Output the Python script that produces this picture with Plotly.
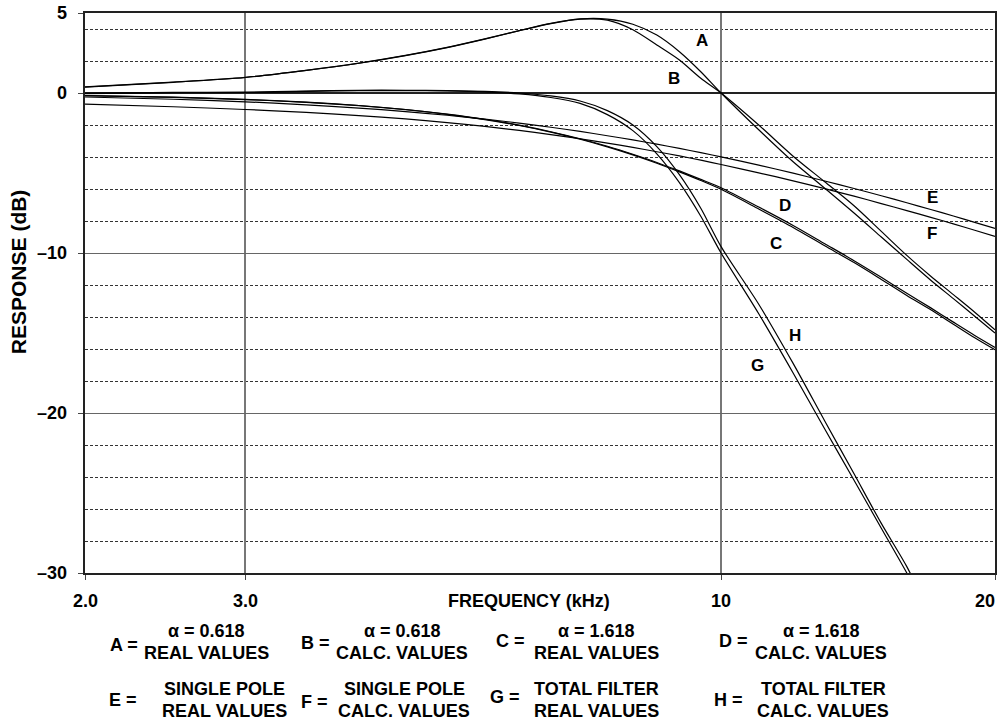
import math
import plotly.graph_objects as go

# ---------------- data ----------------
freq_khz = [2.0, 2.5, 3.0, 3.5, 4.0, 4.5, 5.0, 5.5, 6.0, 6.5, 7.0, 7.5, 8.0, 8.5,
            9.0, 9.5, 10, 11, 12, 13, 14, 15, 16, 17, 18, 19, 20]

resp_A = [0.38, 0.68, 0.98, 1.42, 1.87, 2.35, 2.85, 3.38, 3.90, 4.35, 4.63, 4.62, 4.30, 3.62,
          2.58, 1.33, 0.0, -2.30, -4.30, -5.95, -7.50, -9.00, -10.40, -11.70, -12.85, -13.95, -15.00]
resp_B = [0.37, 0.67, 0.97, 1.41, 1.86, 2.34, 2.84, 3.37, 3.89, 4.34, 4.62, 4.55, 3.95, 3.00,
          2.06, 0.92, 0.0, -2.00, -3.95, -5.55, -7.05, -8.65, -10.15, -11.45, -12.60, -13.70, -14.80]
resp_C = [-0.17, -0.27, -0.41, -0.58, -0.79, -1.04, -1.33, -1.66, -2.03, -2.44, -2.89, -3.37, -3.87, -4.39,
          -4.93, -5.47, -6.02, -7.25, -8.40, -9.55, -10.60, -11.65, -12.65, -13.55, -14.45, -15.30, -16.05]
resp_D = [-0.16, -0.26, -0.40, -0.57, -0.78, -1.03, -1.32, -1.64, -2.01, -2.42, -2.86, -3.33, -3.83, -4.34,
          -4.87, -5.40, -5.92, -7.13, -8.28, -9.42, -10.48, -11.52, -12.52, -13.43, -14.32, -15.15, -15.90]
resp_E = [-0.25, -0.39, -0.55, -0.74, -0.94, -1.16, -1.39, -1.63, -1.88, -2.14, -2.40, -2.67, -2.93, -3.20,
          -3.46, -3.73, -3.99, -4.51, -5.01, -5.50, -5.97, -6.42, -6.86, -7.28, -7.69, -8.09, -8.46]
resp_F = [-0.70, -0.86, -1.03, -1.21, -1.41, -1.62, -1.85, -2.09, -2.34, -2.60, -2.86, -3.13, -3.40, -3.67,
          -3.93, -4.20, -4.47, -4.99, -5.49, -5.98, -6.45, -6.91, -7.35, -7.77, -8.18, -8.58, -8.96]
resp_G = [-0.04, 0.02, 0.03, 0.10, 0.15, 0.15, 0.13, 0.07, -0.06, -0.28, -0.65, -1.35, -2.35, -3.80,
          -5.60, -7.70, -10.00, -13.80, -17.50, -21.00, -24.20, -27.20, -30.00, -32.80, -35.40, -37.80, -40.10]
resp_H = [-0.02, 0.04, 0.05, 0.12, 0.17, 0.17, 0.15, 0.10, 0.00, -0.18, -0.50, -1.10, -2.00, -3.35,
          -5.10, -7.20, -9.60, -13.20, -16.90, -20.50, -23.80, -26.90, -29.60, -32.60, -35.10, -37.50, -39.80]

x_tick_vals = [2, 3, 10, 20]
x_tick_text = ["2.0", "3.0", "10", "20"]
y_tick_vals = [5, 0, -10, -20, -30]
y_tick_text = ["5", "0", "\u201310", "\u201320", "\u201330"]
y_minor_vals = [4, 2, -2, -4, -6, -8, -12, -14, -16, -18, -22, -24, -26, -28]

curve_labels = ["A", "B", "C", "D", "E", "F", "G", "H"]
label_freq = [9.52, 8.87, 11.48, 11.77, 17.06, 17.06, 10.97, 12.07]
label_db = [3.31, 0.88, -9.38, -7.06, -6.5, -8.75, -17.06, -15.13]

legend_keys = ["A =", "B =", "C =", "D =", "E =", "F =", "G =", "H ="]
legend_line1 = ["\u03b1 = 0.618", "\u03b1 = 0.618", "\u03b1 = 1.618", "\u03b1 = 1.618",
                "SINGLE POLE", "SINGLE POLE", "TOTAL FILTER", "TOTAL FILTER"]
legend_line2 = ["REAL VALUES", "CALC. VALUES", "REAL VALUES", "CALC. VALUES",
                "REAL VALUES", "CALC. VALUES", "REAL VALUES", "CALC. VALUES"]

# ---------------- figure ----------------
W, H = 1005, 721
ML, MR, MT, MB = 85, 8, 13, 148
PW, PH = W - ML - MR, H - MT - MB
FONT = "Liberation Sans, Arial, Helvetica, sans-serif"


def px(xp):
    return (xp - ML) / PW


def py(yp):
    return (H - MB - yp) / PH


fig = go.Figure()
for series in [resp_A, resp_B, resp_C, resp_D, resp_E, resp_F, resp_G, resp_H]:
    fig.add_trace(go.Scatter(
        x=freq_khz, y=series, mode="lines",
        line=dict(color="black", width=1.2, shape="spline", smoothing=0.8),
        showlegend=False, hoverinfo="skip"))

annotations = []
# x tick labels
for v, t in zip(x_tick_vals, x_tick_text):
    anchor = "center"
    xs = 0
    if v == 20:
        anchor, xs = "right", 2
    annotations.append(dict(x=math.log10(v), xref="x", y=py(601), yref="paper",
                            text="<b>%s</b>" % t, showarrow=False, xanchor=anchor,
                            yanchor="middle", xshift=xs,
                            font=dict(family=FONT, size=18, color="black")))
# y tick labels
for v, t in zip(y_tick_vals, y_tick_text):
    annotations.append(dict(x=0, xref="paper", y=v, yref="y", text="<b>%s</b>" % t,
                            showarrow=False, xanchor="right", yanchor="middle", xshift=-16,
                            font=dict(family=FONT, size=18, color="black")))
# axis titles
annotations.append(dict(x=px(530), xref="paper", y=py(601), yref="paper",
                        text="<b>FREQUENCY (kHz)</b>", showarrow=False,
                        xanchor="center", yanchor="middle",
                        font=dict(family=FONT, size=18, color="black")))
annotations.append(dict(x=px(18), xref="paper", y=py(272), yref="paper",
                        text="<b>RESPONSE (dB)</b>", showarrow=False, textangle=-90,
                        xanchor="center", yanchor="middle",
                        font=dict(family=FONT, size=21, color="black")))
# curve labels
for t, f, d in zip(curve_labels, label_freq, label_db):
    annotations.append(dict(x=math.log10(f), xref="x", y=d, yref="y", text="<b>%s</b>" % t,
                            showarrow=False, xanchor="center", yanchor="middle",
                            font=dict(family=FONT, size=17, color="black")))

# bottom key
key_x = [124, 316, 511, 735, 123, 315, 506, 730]
key_y = [645, 643, 641, 641, 700, 702, 697, 700]
txt_x = [207, 403, 598, 823, 225, 405, 598, 825]
row_y1 = [631, 631, 631, 631, 689, 689, 689, 689]
row_y2 = [653, 653, 653, 653, 711, 711, 711, 711]
for i in range(8):
    annotations.append(dict(x=px(key_x[i]), xref="paper", y=py(key_y[i]), yref="paper",
                            text="<b>%s</b>" % legend_keys[i], showarrow=False,
                            xanchor="center", yanchor="middle",
                            font=dict(family=FONT, size=18, color="black")))
    annotations.append(dict(x=px(txt_x[i]), xref="paper", y=py(row_y1[i]), yref="paper",
                            text="<b>%s</b>" % legend_line1[i], showarrow=False,
                            xanchor="center", yanchor="middle",
                            font=dict(family=FONT, size=18, color="black")))
    annotations.append(dict(x=px(txt_x[i]), xref="paper", y=py(row_y2[i]), yref="paper",
                            text="<b>%s</b>" % legend_line2[i], showarrow=False,
                            xanchor="center", yanchor="middle",
                            font=dict(family=FONT, size=18, color="black")))

fig.update_layout(
    width=W, height=H,
    margin=dict(l=ML, r=MR, t=MT, b=MB, pad=0),
    paper_bgcolor="white", plot_bgcolor="white",
    annotations=annotations,
    xaxis=dict(type="log", range=[math.log10(2), math.log10(20)],
               tickvals=x_tick_vals, showticklabels=False,
               ticks="outside", ticklen=5, tickcolor="#444", tickwidth=1.2,
               showgrid=True, gridcolor="#777", gridwidth=1.5,
               showline=True, linecolor="#222", linewidth=1.5, mirror=True,
               zeroline=False),
    yaxis=dict(range=[-30, 5], tickvals=y_tick_vals, showticklabels=False,
               ticks="outside", ticklen=5, tickcolor="#444", tickwidth=1.2,
               showgrid=True, gridcolor="#666", gridwidth=1.3,
               zeroline=True, zerolinecolor="#222", zerolinewidth=1.8,
               showline=True, linecolor="#222", linewidth=1.5, mirror=True,
               minor=dict(tickvals=y_minor_vals, showgrid=True, gridcolor="#333",
                          gridwidth=1, griddash="3px,2px", ticks="")),
)

fig.write_html("out.html", config={"displayModeBar": False},
               post_script="document.body.style.margin='0px';document.body.style.padding='0px';")
